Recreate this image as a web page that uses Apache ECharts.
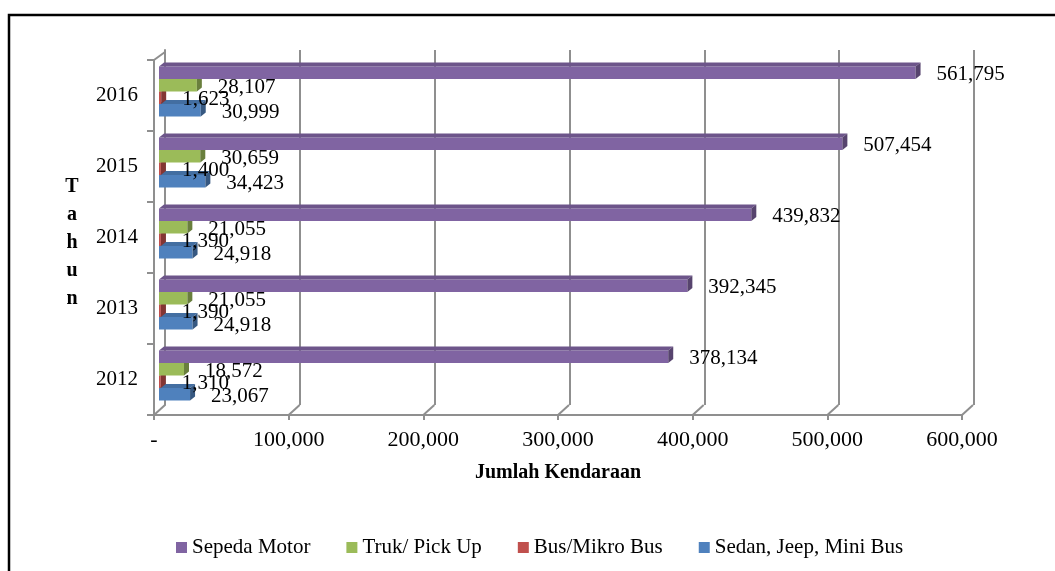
<!DOCTYPE html>
<html>
<head>
<meta charset="utf-8">
<script src="https://cdn.jsdelivr.net/npm/echarts@6/dist/echarts.min.js"></script>
<style>
html,body{margin:0;padding:0;background:#fff;}
#main{width:1055px;height:571px;}
</style>
</head>
<body>
<div id="main"></div>
<script>
// ---- data ----
const years = ['2012', '2013', '2014', '2015', '2016'];
const sepedaMotor = [378134, 392345, 439832, 507454, 561795];
const trukPickUp = [18572, 21055, 21055, 30659, 28107];
const busMikroBus = [1310, 1390, 1390, 1400, 1623];
const sedanJeepMiniBus = [23067, 24918, 24918, 34423, 30999];
const xTicks = [0, 100000, 200000, 300000, 400000, 500000, 600000];
const seriesNames = ['Sepeda Motor', 'Truk/ Pick Up', 'Bus/Mikro Bus', 'Sedan, Jeep, Mini Bus'];
const xTitle = 'Jumlah Kendaraan';
const yTitle = 'Tahun';

// ---- style ----
const FONT = "'Liberation Serif', 'Times New Roman', serif";
const GRAY = '#8f8f8f';
const SLOT = 12.5;        // bar thickness
const BDX = 5, BDY = 4;   // bar depth
const WDX = 11, WDY = 10; // wall depth

function fmt(v) { return v === 0 ? '-' : v.toLocaleString('en-US'); }
function shade(hex, f) {
  const n = parseInt(hex.slice(1), 16);
  const r = Math.round(((n >> 16) & 255) * f), g = Math.round(((n >> 8) & 255) * f), b = Math.round((n & 255) * f);
  return 'rgb(' + r + ',' + g + ',' + b + ')';
}

const barDefs = [
  { name: seriesNames[3], values: sedanJeepMiniBus, color: '#4f81bd', slot: 3 },
  { name: seriesNames[2], values: busMikroBus, color: '#c0504d', slot: 2 },
  { name: seriesNames[1], values: trukPickUp, color: '#9bbb59', slot: 1 },
  { name: seriesNames[0], values: sepedaMotor, color: '#8064a2', slot: 0 }
];

function makeRender(def, order) {
  return function (params, api) {
    const cat = api.value(0), val = api.value(1);
    const p0 = api.coord([0, cat]);
    const p1 = api.coord([val, cat]);
    const x0 = p0[0], x1 = p1[0];
    const y0 = p0[1] - 2 * SLOT + def.slot * SLOT;
    const base = order * 4;
    return {
      type: 'group',
      children: [
        { type: 'rect', z2: base, shape: { x: x0, y: y0, width: x1 - x0, height: SLOT },
          style: { fill: def.color } },
        { type: 'polygon', z2: base + 1, shape: { points: [[x0, y0], [x1, y0], [x1 + BDX, y0 - BDY], [x0 + BDX, y0 - BDY]] },
          style: { fill: shade(def.color, 0.85) } },
        { type: 'polygon', z2: base + 2, shape: { points: [[x1, y0], [x1 + BDX, y0 - BDY], [x1 + BDX, y0 + SLOT - BDY], [x1, y0 + SLOT]] },
          style: { fill: shade(def.color, 0.68) } },
        { type: 'text', z2: 100, style: { text: fmt(val), x: x1 + 21, y: y0 + SLOT / 2 + 2,
          verticalAlign: 'middle', align: 'left', font: '21px ' + FONT, fill: '#000' } }
      ]
    };
  };
}

const series = barDefs.map(function (def, i) {
  return {
    type: 'custom', name: def.name, xAxisIndex: 2, yAxisIndex: 2,
    itemStyle: { color: def.color }, silent: true, clip: false,
    encode: { y: 0, x: 1 },
    data: years.map(function (y, k) { return [k, def.values[k]]; }),
    renderItem: makeRender(def, i)
  };
});

// wall edge diagonals, computed from the front axis ticks
series.push({
  type: 'custom', xAxisIndex: 0, yAxisIndex: 0, silent: true, clip: false, z: 1,
  encode: { x: 0 },
  data: xTicks.map(function (v) { return [v]; }),
  renderItem: function (params, api) {
    const v = api.value(0);
    const cs = params.coordSys;
    const p = api.coord([v, 0]);
    const yb = cs.y + cs.height;
    const children = [{ type: 'line', shape: { x1: p[0], y1: yb, x2: p[0] + WDX, y2: yb - WDY },
      style: { stroke: GRAY, lineWidth: 2 } }];
    if (v === 0) {
      children.push({ type: 'line', shape: { x1: cs.x, y1: cs.y, x2: cs.x + WDX, y2: cs.y - WDY + 2 },
        style: { stroke: GRAY, lineWidth: 2 } });
    }
    return { type: 'group', children: children };
  }
});

const chart = echarts.init(document.getElementById('main'), null, { renderer: 'canvas' });
chart.setOption({
  animation: false,
  backgroundColor: '#fff',
  textStyle: { fontFamily: FONT },
  grid: [
    { left: 154, right: 93, top: 60, bottom: 156 },   // front
    { left: 165, right: 81, top: 50, bottom: 166 },   // back wall
    { left: 159, right: 88, top: 56, bottom: 160 }    // bars
  ],
  xAxis: [
    { gridIndex: 0, type: 'value', min: 0, max: 600000, interval: 100000,
      axisLine: { show: true, lineStyle: { color: GRAY, width: 2 } },
      axisTick: { show: true, length: 5, lineStyle: { color: GRAY, width: 2 } },
      axisLabel: { formatter: fmt, fontSize: 22, color: '#000', margin: 14, fontFamily: FONT },
      splitLine: { show: false },
      name: xTitle, nameLocation: 'middle', nameGap: 48,
      nameTextStyle: { fontSize: 20, fontWeight: 'bold', color: '#000', fontFamily: FONT } },
    { gridIndex: 1, type: 'value', min: 0, max: 600000, interval: 100000,
      axisLine: { show: false }, axisTick: { show: false }, axisLabel: { show: false },
      splitLine: { show: true, lineStyle: { color: GRAY, width: 2 } } },
    { gridIndex: 2, type: 'value', min: 0, max: 600000, interval: 100000, show: false }
  ],
  yAxis: [
    { gridIndex: 0, type: 'category', data: years,
      axisLine: { show: true, lineStyle: { color: GRAY, width: 2 } },
      axisTick: { show: true, length: 7, lineStyle: { color: GRAY, width: 2 } },
      axisLabel: { fontSize: 21, color: '#000', margin: 16, fontFamily: FONT } },
    { gridIndex: 1, type: 'category', data: years,
      axisLine: { show: true, lineStyle: { color: GRAY, width: 2 } },
      axisTick: { show: false }, axisLabel: { show: false } },
    { gridIndex: 2, type: 'category', data: years, show: false }
  ],
  legend: {
    data: seriesNames, left: 171, top: 532, icon: 'rect', itemWidth: 11, itemHeight: 11,
    itemGap: 36, textStyle: { fontSize: 21, color: '#000', fontFamily: FONT }
  },
  graphic: [
    { type: 'rect', silent: true, shape: { x: 9, y: 15, width: 1200, height: 700 },
      style: { fill: 'none', stroke: '#000', lineWidth: 2.5 } },
    { type: 'text', silent: true, x: 72, y: 173,
      style: { text: yTitle.split('').join('\n'), align: 'center', verticalAlign: 'top',
        font: 'bold 20px ' + FONT, lineHeight: 28, fill: '#000' } }
  ],
  series: series
});
</script>
</body>
</html>
